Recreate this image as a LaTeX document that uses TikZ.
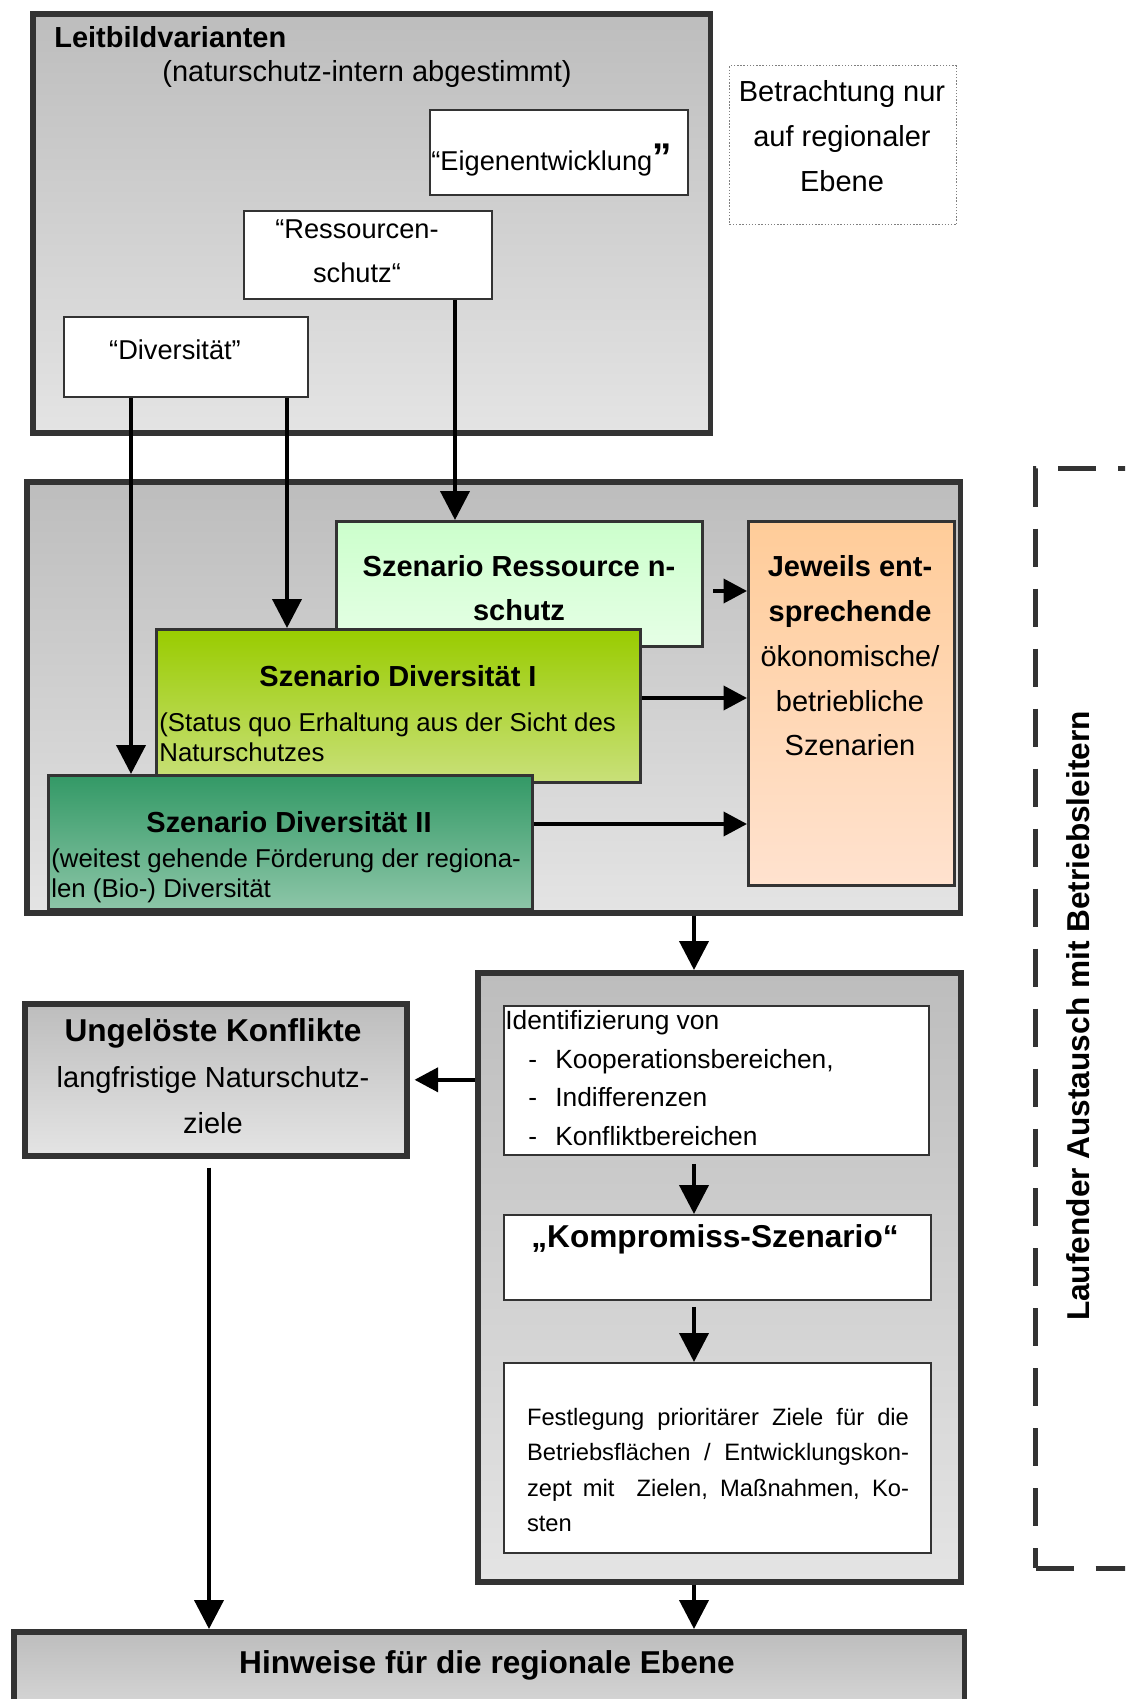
\documentclass[tikz,border=0pt]{standalone}
\usepackage{fontspec}
\setmainfont{Liberation Sans}
\usetikzlibrary{positioning, arrows.meta}

\definecolor{edge}{HTML}{333333}
\definecolor{greyTop}{HTML}{BDBDBD}
\definecolor{greyBot}{HTML}{E4E4E4}
\definecolor{ressTop}{HTML}{CCFFCC}
\definecolor{ressBot}{HTML}{E6FFE6}
\definecolor{divATop}{HTML}{99CC00}
\definecolor{divABot}{HTML}{C9E07A}
\definecolor{divBTop}{HTML}{339966}
\definecolor{divBBot}{HTML}{8DC6A8}
\definecolor{jewTop}{HTML}{FFCC99}
\definecolor{jewBot}{HTML}{FFE2CF}

\newcommand{\dashitem}{\makebox[1cm][l]{\hspace{0.46cm}-}}

\tikzset{
    frame/.style = {draw = edge, line width = 3.2pt, top color = greyTop, bottom color = greyBot, anchor = north west, inner sep = 0pt},
    whitebox/.style = {draw = edge, line width = 1.1pt, fill = white, anchor = north west, inner sep = 0pt},
    scenbox/.style = {draw = edge, line width = 1.9pt, anchor = north west, inner sep = 0pt},
    flow/.style = {line width = 2.3pt, -{Triangle[length = 0.58cm, width = 0.58cm]}},
    sideflow/.style = {line width = 2.2pt, -{Triangle[length = 0.47cm, width = 0.48cm]}},
    txt/.style = {inner sep = 0pt, font = \fontsize{16.5}{25.5}\selectfont},
    btxt/.style = {inner sep = 0pt, font = \fontsize{16.5}{25}\selectfont\bfseries},
    bigtxt/.style = {inner sep = 0pt, font = \fontsize{18}{26}\selectfont\bfseries},
    quotetxt/.style = {inner sep = 0pt, font = \fontsize{15.5}{25}\selectfont},
    subtxt/.style = {inner sep = 0pt, font = \fontsize{14.7}{17}\selectfont},
    itemtxt/.style = {inner sep = 0pt, font = \fontsize{15}{22.1}\selectfont},
    festtxt/.style = {inner sep = 0pt, font = \fontsize{13.5}{20.2}\selectfont}
}

\begin{document}
\begin{tikzpicture}[x = 0.02cm, y = -0.02cm]
            \useasboundingbox (0, 0) rectangle (1125, 1699);
            \clip (0, 0) rectangle (1125, 1699);

            \node [frame, minimum width = 13.56cm, minimum height = 8.38cm] (leit) at (30, 11) {};
            \node [whitebox, minimum width = 5.16cm, minimum height = 1.7cm] (eigen) at (429, 109) {};
            \node [whitebox, minimum width = 4.96cm, minimum height = 1.76cm] (ress) at (243, 210) {};
            \node [whitebox, minimum width = 4.88cm, minimum height = 1.6cm] (div) at (63, 316) {};
            \node [draw = gray, densely dotted, line width = 0.8pt, anchor = north west, minimum width = 4.54cm, minimum height = 3.18cm] (betr) at (729, 65) {};

            \node [frame, minimum width = 18.68cm, minimum height = 8.62cm] (szen) at (24, 479) {};
            \node [scenbox, top color = ressTop, bottom color = ressBot, minimum width = 7.32cm, minimum height = 2.5cm] (szres) at (335, 520) {};
            \node [scenbox, top color = divATop, bottom color = divABot, minimum width = 9.68cm, minimum height = 3.06cm] (szdivA) at (155, 628) {};
            \node [scenbox, top color = divBTop, bottom color = divBBot, minimum width = 9.68cm, minimum height = 2.68cm] (szdivB) at (47, 774) {};
            \node [scenbox, top color = jewTop, bottom color = jewBot, minimum width = 4.12cm, minimum height = 7.28cm] (jew) at (747, 520) {};

            \node [frame, minimum width = 9.66cm, minimum height = 12.18cm] (abst) at (475, 970) {};
            \node [whitebox, minimum width = 8.5cm, minimum height = 2.98cm] (ident) at (503, 1005) {};
            \node [whitebox, minimum width = 8.54cm, minimum height = 1.7cm] (komp) at (503, 1214) {};
            \node [whitebox, minimum width = 8.54cm, minimum height = 3.8cm] (fest) at (503, 1362) {};

            \node [frame, minimum width = 7.64cm, minimum height = 3.04cm] (ungel) at (22, 1001) {};
            \node [frame, minimum width = 19.02cm, minimum height = 2.4cm] (hinw) at (11, 1629) {};
            \node [draw = edge, line width = 3pt, dash pattern = on 0.76cm off 0.44cm, anchor = north west, minimum width = 2.8cm, minimum height = 22cm] (laufbox) at (1033, 466) {};

            \node [btxt, anchor = west] (tLeit) at (54, 37) {Leitbildvarianten};
            \node [txt] (tLeitSub) at (367, 74) {(naturschutz-intern abgestimmt)};
            \node [quotetxt, anchor = west] (tEigen) at (431, 160) {“Eigenentwicklung{\fontsize{22}{22}\selectfont\bfseries ”}};
            \node [quotetxt, align = center] (tRess) at (357, 251) {“Ressourcen-\\schutz“};
            \node [quotetxt] (tDiv) at (175, 350) {“Diversität”};
            \node [txt, align = center] (tBetr) at (842, 136) {Betrachtung nur\\auf regionaler\\Ebene};

            \node [btxt, align = center] (tSzres) at (519, 588) {Szenario Ressource n-\\schutz};
            \node [btxt] (tDivA) at (398, 676) {Szenario Diversität I};
            \node [subtxt, anchor = west, align = left] (tDivASub) at (159, 737) {(Status quo Erhaltung aus der Sicht des\\Naturschutzes};
            \node [btxt] (tDivB) at (289, 822) {Szenario Diversität II};
            \node [subtxt, anchor = west, align = left] (tDivBSub) at (51, 876) {(weitest gehende Förderung der regiona-\\len (Bio-) Diversität};
            \node [txt, align = center] (tJew) at (850, 656) {\textbf{Jeweils ent-}\\\textbf{sprechende}\\ökonomische/\\betriebliche\\Szenarien};

            \node [itemtxt, anchor = west, align = left] (tIdent) at (505, 1078) {Identifizierung von\\\dashitem Kooperationsbereichen,\\\dashitem Indifferenzen\\\dashitem Konfliktbereichen};
            \node [bigtxt] (tKomp) at (715, 1239) {„Kompromiss-Szenario“};
            \node [festtxt, text width = 7.64cm, align = justify] (tFest) at (718, 1470) {Festlegung prioritärer Ziele für die\linebreak Betriebsflächen / Entwicklungskon-\linebreak zept mit \ Zielen, Maßnahmen, Ko-\linebreak sten};

            \node [txt, align = center, font = \fontsize{16.5}{26}\selectfont] (tUngel) at (213, 1076) {{\fontsize{18}{26}\selectfont\bfseries Ungelöste Konflikte}\\langfristige Naturschutz-\\ziele};
            \node [bigtxt] (tHinw) at (487, 1665) {Hinweise für die regionale Ebene};
            \node [bigtxt, rotate = 90] (tLauf) at (1078, 1016) {Laufender Austausch mit Betriebsleitern};

            \coordinate (colA) at (131, 0);
            \coordinate (colB) at (287, 0);
            \coordinate (colC) at (455, 0);
            \coordinate (colU) at (209, 0);
            \coordinate (axis) at (694, 0);
            \coordinate (rowR) at (0, 591);
            \coordinate (rowA) at (0, 698);
            \coordinate (rowB) at (0, 824);

            \draw [flow] (colA |- div.south) -- (colA |- szdivB.north);
            \draw [flow] (colB |- div.south) -- (colB |- szdivA.north);
            \draw [flow] (colC |- ress.south) -- (colC |- szres.north);
            \draw [sideflow, shorten <= 0.18cm] (szres.east |- rowR) -- (jew.west |- rowR);
            \draw [sideflow] (szdivA.east |- rowA) -- (jew.west |- rowA);
            \draw [sideflow] (szdivB.east |- rowB) -- (jew.west |- rowB);
            \draw [flow] (axis |- szen.south) -- (axis |- abst.north);
            \draw [flow, shorten <= 0.16cm] (axis |- ident.south) -- (axis |- komp.north);
            \draw [flow, shorten <= 0.12cm] (axis |- komp.south) -- (axis |- fest.north);
            \draw [flow] (axis |- abst.south) -- (axis |- hinw.north);
            \draw [sideflow, shorten >= 0.1cm] (abst.west |- ungel.east) -- (ungel.east);
            \draw [flow, shorten <= 0.18cm] (colU |- ungel.south) -- (colU |- hinw.north);
\end{tikzpicture}
\end{document}
